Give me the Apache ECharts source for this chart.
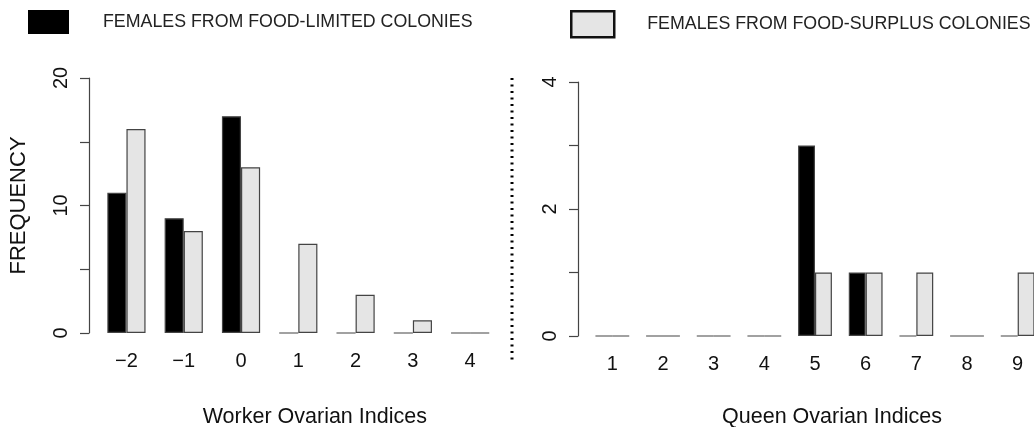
<!DOCTYPE html>
<html>
<head>
<meta charset="utf-8">
<script src="https://cdn.jsdelivr.net/npm/echarts@6/dist/echarts.min.js"></script>
<style>
  html, body { margin: 0; padding: 0; background: #fff; }
  #main { width: 1034px; height: 427px; }
</style>
</head>
<body>
<div id="main"></div>
<script>
var FONT = "'Liberation Sans', Arial, sans-serif";

// worker panel
var workerCats = ['\u22122', '\u22121', '0', '1', '2', '3', '4'];
var workerLimited = [11, 9, 17, 0, 0, 0, 0];
var workerSurplus = [16, 8, 13, 7, 3, 1, 0];

// queen panel
var queenCats = ['1', '2', '3', '4', '5', '6', '7', '8', '9'];
var queenLimited = [0, 0, 0, 0, 3, 1, 0, 0, 0];
var queenSurplus = [0, 0, 0, 0, 1, 1, 1, 0, 1];

var nameLimited = 'FEMALES FROM FOOD-LIMITED COLONIES';
var nameSurplus = 'FEMALES FROM FOOD-SURPLUS COLONIES';

var chart = echarts.init(document.getElementById('main'), null, { renderer: 'canvas' });

function xAx(grid, cats, title, shift, gap) {
  return {
    type: 'category',
    gridIndex: grid,
    data: cats,
    axisLine: { show: false },
    axisTick: { show: false },
    axisLabel: { color: '#111', fontSize: 20, fontFamily: FONT, margin: 18, interval: 0 },
    name: title,
    nameLocation: 'middle',
    nameGap: gap,
    nameTextStyle: { color: '#111', fontSize: 21.5, fontFamily: FONT, padding: [0, 0, 0, shift] }
  };
}

function yAx(grid, max, step, labelStep, offset, name) {
  return {
    type: 'value',
    gridIndex: grid,
    min: 0,
    max: max,
    interval: step,
    offset: offset,
    splitLine: { show: false },
    axisLine: { show: true, lineStyle: { color: '#444', width: 1.2 } },
    axisTick: { show: true, length: 9, lineStyle: { color: '#444', width: 1.2 } },
    axisLabel: {
      color: '#111', fontSize: 20, fontFamily: FONT, rotate: 90, margin: 18,
      formatter: function (v) { return v % labelStep === 0 ? String(v) : ''; }
    },
    name: name,
    nameLocation: 'middle',
    nameGap: 59,
    nameTextStyle: { color: '#111', fontSize: 22, fontFamily: FONT }
  };
}

function barSeries(name, grid, data, color, width) {
  return {
    name: name,
    type: 'bar',
    xAxisIndex: grid,
    yAxisIndex: grid,
    data: data,
    barWidth: width,
    barGap: '0%',
    itemStyle: { color: color, borderColor: '#444', borderWidth: 1.2 },
    emphasis: { disabled: true },
    animation: false
  };
}

var option = {
  animation: false,
  legend: [
    {
      left: 28, top: 10, padding: 0,
      itemWidth: 41, itemHeight: 24,
      icon: 'rect',
      data: [nameLimited],
      itemStyle: { borderWidth: 0 },
      textStyle: { color: '#222', fontSize: 17.8, fontFamily: FONT, padding: [0, 0, 0, 29] }
    },
    {
      left: 570, top: 10, padding: 0,
      itemWidth: 43, itemHeight: 26,
      icon: 'rect',
      data: [nameSurplus],
      itemStyle: { borderColor: '#111', borderWidth: 2.5 },
      textStyle: { color: '#222', fontSize: 17.8, fontFamily: FONT, padding: [0, 0, 0, 28] }
    }
  ],
  grid: [
    { left: 97.8, top: 78, width: 401, height: 255, containLabel: false, outerBoundsMode: 'none' },
    { left: 587, top: 82, width: 456, height: 254, containLabel: false, outerBoundsMode: 'none' }
  ],
  xAxis: [
    xAx(0, workerCats, 'Worker Ovarian Indices', 33, 73),
    xAx(1, queenCats, 'Queen Ovarian Indices', 34, 70)
  ],
  yAxis: [
    yAx(0, 20, 5, 10, 8.8, 'FREQUENCY'),
    yAx(1, 4, 1, 2, 9, '')
  ],
  series: [
    barSeries(nameLimited, 0, workerLimited, '#000', 19.1),
    barSeries(nameSurplus, 0, workerSurplus, '#e5e5e5', 19.1),
    barSeries(nameLimited, 1, queenLimited, '#000', 16.9),
    barSeries(nameSurplus, 1, queenSurplus, '#e5e5e5', 16.9)
  ],
  graphic: [
    {
      type: 'line',
      shape: { x1: 512, y1: 78, x2: 512, y2: 362 },
      style: { stroke: '#000', lineWidth: 3, lineDash: [2, 4.5] }
    }
  ]
};

chart.setOption(option);
</script>
</body>
</html>
